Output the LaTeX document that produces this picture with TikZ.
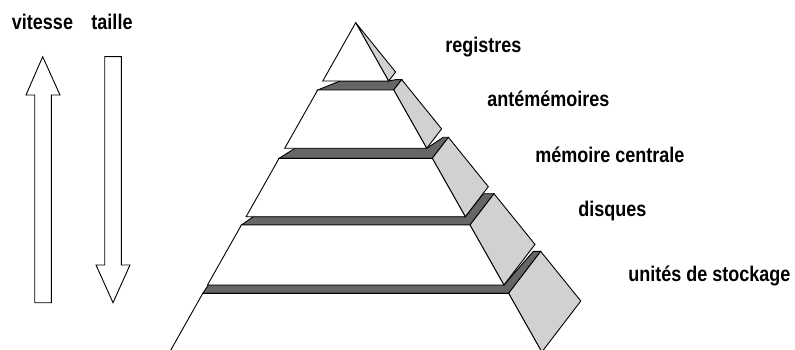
\documentclass[tikz,border=0pt]{standalone}
\usepackage{fontspec}
\setmainfont{Liberation Sans}
\usepackage{graphicx}
\usetikzlibrary{positioning}

\newcommand{\tallbold}[1]{\scalebox{1}[1.18]{\bfseries #1}}

\begin{document}
\begin{tikzpicture}[
    x=1pt, y=-1pt,
    line width=0.9pt,
    line join=miter,
    front/.style={draw, fill=white},
    ledge/.style={draw, fill=black!60},
    flank/.style={draw, fill=black!18},
    blockarrow/.style={draw, fill=white},
    levelname/.style={anchor=base west, inner sep=0pt, font=\fontsize{18}{20}\selectfont}
]
    \useasboundingbox (0,0) rectangle (795,350);
    \clip (0,0) rectangle (795,350);

    % Speed and size arrows
    \draw[blockarrow] (42.7,56.7) -- (60,95) -- (51.3,95) -- (51.3,302.7)
        -- (34.7,302.7) -- (34.7,95) -- (26,95) -- cycle;
    \draw[blockarrow] (104.7,56.7) -- (121.3,56.7) -- (121.3,265) -- (130,265)
        -- (113,302.7) -- (96,265) -- (104.7,265) -- cycle;
    \node[levelname, anchor=base] (speed) at (42.5,29.3) {\tallbold{vitesse}};
    \node[levelname, anchor=base] (size) at (112,29.3) {\tallbold{taille}};

    % Layer 5 (bottom)
    \draw[ledge] (202.8,293.3) -- (208.3,285) -- (503.9,285) -- (533.3,251.4)
        -- (540.7,251.4) -- (508.6,293.3) -- cycle;
    \draw[flank] (508.6,293.3) -- (540.7,251.4) -- (580.8,301.0) -- (541.8,352) -- cycle;
    \draw[front] (202.8,293.3) -- (508.6,293.3) -- (541.8,352) -- (169.7,352) -- cycle;

    % Layer 4
    \draw[ledge] (241.4,225) -- (253.3,216.7) -- (465.3,216.7) -- (483.3,193.7)
        -- (494.0,193.7) -- (470.0,225) -- cycle;
    \draw[flank] (470.0,225) -- (494.0,193.7) -- (535.0,244.4) -- (503.9,285) -- cycle;
    \draw[front] (241.4,225) -- (470.0,225) -- (503.9,285) -- (207.5,285) -- cycle;

    % Layer 3
    \draw[ledge] (279.1,158.3) -- (295,148.3) -- (426.7,148.3) -- (443.3,137.3)
        -- (448.4,137.3) -- (432.3,158.3) -- cycle;
    \draw[flank] (432.3,158.3) -- (448.4,137.3) -- (488.3,186.7) -- (465.3,216.7) -- cycle;
    \draw[front] (279.1,158.3) -- (432.3,158.3) -- (465.3,216.7) -- (246.1,216.7) -- cycle;

    % Layer 2
    \draw[ledge] (317.7,90) -- (340,81) -- (388.6,81) -- (396,79.6)
        -- (401.7,79.6) -- (393.7,90) -- cycle;
    \draw[flank] (393.7,90) -- (401.7,79.6) -- (441.6,128.9) -- (426.7,148.3) -- cycle;
    \draw[front] (317.7,90) -- (393.7,90) -- (426.7,148.3) -- (284.7,148.3) -- cycle;

    % Layer 1 (top)
    \draw[flank] (355.7,22.7) -- (395.6,72.0) -- (388.6,81) -- cycle;
    \draw[front] (355.7,22.7) -- (388.6,81) -- (322.8,81) -- cycle;

    % Level names
    \node[levelname] (reg) at (445,53) {\tallbold{registres}};
    \node[levelname] (cache) at (487,107) {\tallbold{antémémoires}};
    \node[levelname] (ram) at (535,163) {\tallbold{mémoire centrale}};
    \node[levelname] (disk) at (578,216) {\tallbold{disques}};
    \node[levelname] (store) at (628,281.7) {\tallbold{unités de stockage}};
\end{tikzpicture}
\end{document}
